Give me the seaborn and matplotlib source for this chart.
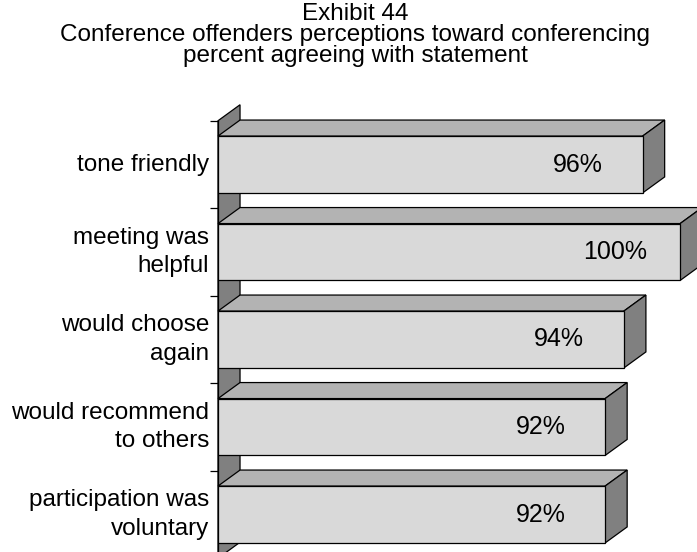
import numpy as np
import pandas as pd
import matplotlib
matplotlib.use("Agg")
import matplotlib.pyplot as plt
from matplotlib.patches import Polygon
import seaborn as sns

# data
statements = ["tone friendly", "meeting was\nhelpful", "would choose\nagain",
              "would recommend\nto others", "participation was\nvoluntary"]
percent_agree = [96, 100, 94, 92, 92]
title_lines = ["Exhibit 44",
               "Conference offenders perceptions toward conferencing",
               "percent agreeing with statement"]

df = pd.DataFrame({"statement": statements, "pct": percent_agree})

sns.set_style("white")
plt.rcParams["font.family"] = ["Liberation Sans", "DejaVu Sans"]
plt.rcParams["text.color"] = "black"
plt.rcParams["ytick.color"] = "black"

fig = plt.figure(figsize=(6.97, 5.52), dpi=100)
ax = fig.add_axes([218 / 697, 1 - 558.25 / 552, 1 - 218 / 697, 437.5 / 552])

xmin, xmax = 50.7, 101.8
DX, DY = 2.35, 0.183   # depth of the 3d effect in data units
front, top, side = "#d9d9d9", "#b3b3b3", "#808080"

sns.barplot(data=df, x="pct", y="statement", orient="h", color=front, saturation=1,
            edgecolor="black", linewidth=0.9, width=0.65, ax=ax, zorder=3)

# back wall on the left
wall = Polygon([(xmin, -0.5), (xmin + DX, -0.5 - DY), (xmin + DX, 4.5 - DY), (xmin, 4.5)],
               closed=True, facecolor=side, edgecolor="black", lw=0.9, clip_on=False, zorder=1)
ax.add_patch(wall)

for bar, v in zip(ax.containers[0], df["pct"]):
    y0 = bar.get_y()
    y1 = y0 + bar.get_height()
    top_face = Polygon([(xmin, y0), (xmin + DX, y0 - DY), (v + DX, y0 - DY), (v, y0)],
                       closed=True, facecolor=top, edgecolor="black", lw=0.9, clip_on=False, zorder=2)
    side_face = Polygon([(v, y0), (v + DX, y0 - DY), (v + DX, y1 - DY), (v, y1)],
                        closed=True, facecolor=side, edgecolor="black", lw=0.9, clip_on=False, zorder=2)
    ax.add_patch(top_face)
    ax.add_patch(side_face)

for i, v in enumerate(df["pct"]):
    ax.text(v - 6.9, i, f"{v}%", ha="center", va="center", fontsize=18, color="black", zorder=5)

ax.set_xlim(xmin, xmax)
ax.set_ylim(4.5, -0.5)
ax.set_xlabel("")
ax.set_ylabel("")
ax.set_xticks([])
ax.set_yticks(np.arange(-0.5, 5, 1), minor=True)
ax.tick_params(axis="y", which="minor", length=6, width=0.9, color="black", direction="out", left=True)
ax.tick_params(axis="y", which="major", length=0, pad=6.5, labelsize=17.5, labelcolor="black")
for lab in ax.get_yticklabels():
    lab.set_multialignment("right")
    lab.set_linespacing(1.4)
    lab.set_verticalalignment("center")
for s in ["top", "right", "bottom"]:
    ax.spines[s].set_visible(False)
ax.spines["left"].set_color("black")
ax.spines["left"].set_linewidth(0.9)
ax.spines["left"].set_zorder(4)

fig.text(0.51, 0.994, "\n".join(title_lines), ha="center", va="top", fontsize=17.5,
         linespacing=0.93, color="black")

fig.savefig("out.png", dpi=100)
